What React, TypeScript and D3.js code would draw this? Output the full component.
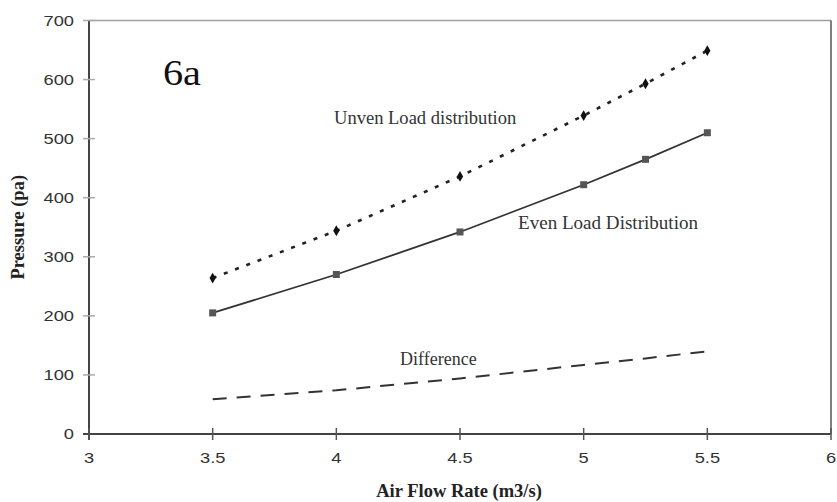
import React, { useEffect, useRef } from "react";
import * as d3 from "d3";

const flowRates = [3.5, 4, 4.5, 5, 5.25, 5.5];
const unevenLoad = [264, 344, 436, 539, 593, 649];
const evenLoad = [205, 270, 342, 422, 465, 510];
const difference = [59, 74, 94, 117, 128, 140];
const xTicks = [3, 3.5, 4, 4.5, 5, 5.5, 6];
const yTicks = [0, 100, 200, 300, 400, 500, 600, 700];

const W = 837;
const H = 502;

export default function App() {
  const ref = useRef<SVGSVGElement>(null);

  useEffect(() => {
    const svg = d3.select(ref.current);
    svg.selectAll("*").remove();

    const x = d3.scaleLinear().domain([3, 6]).range([89, 831]);
    const y = d3.scaleLinear().domain([0, 700]).range([434, 20.5]);

    svg.append("rect").attr("width", W).attr("height", H).attr("fill", "#fff");

    // plot frame
    svg.append("line").attr("x1", x(3)).attr("x2", x(6)).attr("y1", y(700)).attr("y2", y(700))
      .attr("stroke", "#a0a0a0").attr("stroke-width", 1.5);
    svg.append("line").attr("x1", x(6)).attr("x2", x(6)).attr("y1", y(700)).attr("y2", y(0))
      .attr("stroke", "#555").attr("stroke-width", 1.5);

    const sans = "Liberation Sans, Arial, sans-serif";
    const tickText = (tx: number, ty: number, s: string, anchor: string) =>
      svg.append("text")
        .attr("transform", `translate(${tx},${ty}) scale(1.18,1)`)
        .attr("text-anchor", anchor).attr("font-family", sans)
        .attr("font-size", 15.5).attr("fill", "#333").text(s);

    // y axis
    svg.append("line").attr("x1", x(3)).attr("x2", x(3)).attr("y1", y(700)).attr("y2", y(0) + 6)
      .attr("stroke", "#444").attr("stroke-width", 2);
    yTicks.forEach((t) => {
      svg.append("line").attr("x1", x(3) - 6).attr("x2", x(3) + 6).attr("y1", y(t)).attr("y2", y(t))
        .attr("stroke", "#aaa").attr("stroke-width", 1.5);
      tickText(x(3) - 15, y(t) + 5, String(t), "end");
    });

    // x axis
    svg.append("line").attr("x1", x(3) - 6).attr("x2", x(6)).attr("y1", y(0)).attr("y2", y(0))
      .attr("stroke", "#444").attr("stroke-width", 2);
    xTicks.forEach((t) => {
      svg.append("line").attr("x1", x(t)).attr("x2", x(t)).attr("y1", y(0) - 6).attr("y2", y(0) + 6)
        .attr("stroke", "#555").attr("stroke-width", 1.5);
      tickText(x(t), y(0) + 29, String(t), "middle");
    });

    const line = (vals: number[]) =>
      d3.line<number>().x((_, i) => x(flowRates[i])).y((v) => y(v))(vals) as string;

    // uneven load: dotted with diamond markers
    svg.append("path").attr("d", line(unevenLoad)).attr("fill", "none")
      .attr("stroke", "#222").attr("stroke-width", 2.6).attr("stroke-dasharray", "4,8");
    svg.selectAll(".dm").data(unevenLoad).enter().append("path")
      .attr("d", d3.symbol().type(d3.symbolDiamond).size(34)())
      .attr("transform", (v, i) => `translate(${x(flowRates[i])},${y(v)})`)
      .attr("fill", "#111");

    // even load: solid with square markers
    svg.append("path").attr("d", line(evenLoad)).attr("fill", "none")
      .attr("stroke", "#333").attr("stroke-width", 1.8);
    svg.selectAll(".sq").data(evenLoad).enter().append("rect")
      .attr("x", (_, i) => x(flowRates[i]) - 3.5).attr("y", (v) => y(v) - 3.5)
      .attr("width", 7).attr("height", 7).attr("fill", "#555");

    // difference: dashed
    svg.append("path").attr("d", line(difference)).attr("fill", "none")
      .attr("stroke", "#333").attr("stroke-width", 2).attr("stroke-dasharray", "14,10");

    const serif = "Liberation Serif, Times New Roman, serif";
    const label = (tx: number, ty: number, s: string, size: number, sx = 1) =>
      svg.append("text").attr("transform", `translate(${tx},${ty}) scale(${sx},1)`)
        .attr("font-family", serif).attr("font-size", size).attr("fill", "#333").text(s);

    label(163, 85, "6a", 35, 1.15).attr("fill", "#111");
    label(334, 124, "Unven Load distribution", 18, 1.03);
    label(518, 229, "Even Load Distribution", 18, 1.06);
    label(400, 365, "Difference", 18);

    label(459, 497, "Air Flow Rate (m3/s)", 18.5)
      .attr("text-anchor", "middle").attr("font-weight", "bold").attr("fill", "#222");
    svg.append("text")
      .attr("transform", `translate(24,${y(350)}) rotate(-90)`)
      .attr("text-anchor", "middle").attr("font-family", serif).attr("font-weight", "bold")
      .attr("font-size", 18.5).attr("fill", "#222").text("Pressure (pa)");
  }, []);

  return (
    <svg ref={ref} width={W} height={H}
      style={{ position: "absolute", left: 0, top: 0, display: "block" }} />
  );
}
